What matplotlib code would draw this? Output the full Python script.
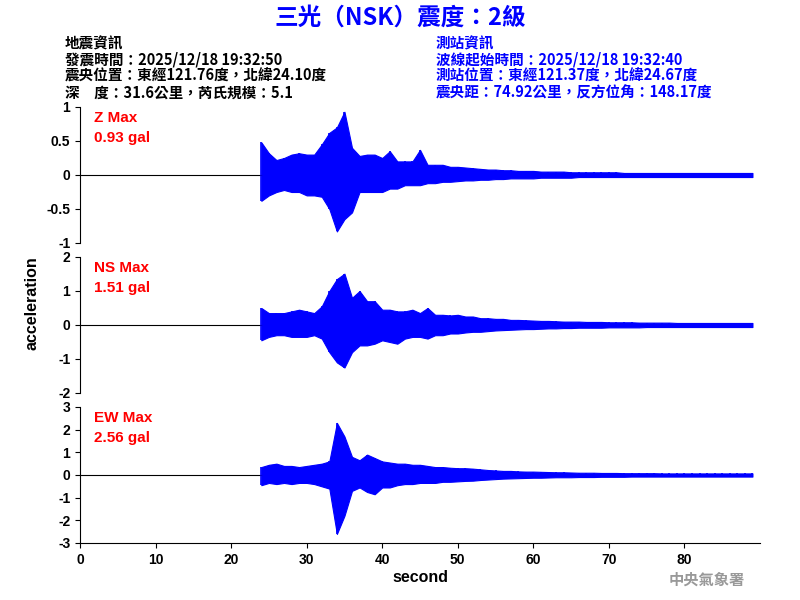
import matplotlib
matplotlib.use("Agg")
import matplotlib.pyplot as plt

plt.rcParams['font.family'] = ['Noto Sans CJK TC', 'DejaVu Sans']

# envelope sample times (seconds), one per second from onset
t_env = list(range(24, 90))
z_pos = [0.48,0.32,0.22,0.25,0.30,0.32,0.30,0.30,0.45,0.62,0.70,0.93,0.40,0.28,0.30,0.30,0.25,0.35,0.20,0.20,0.20,0.37,0.15,0.15,0.15,0.12,0.12,0.11,0.10,0.09,0.08,0.08,0.07,0.07,0.06,0.06,
         0.06,0.05,0.05,0.05,0.05,0.04,0.04,0.04,0.04,0.04,0.04,0.04,0.03,0.03,0.03,0.03,0.03,0.03,0.03,0.03,0.03,0.03,0.03,0.03,0.03,0.03,0.03,0.03,0.03,0.03]
z_neg = [-0.38,-0.30,-0.25,-0.22,-0.25,-0.25,-0.30,-0.30,-0.32,-0.50,-0.83,-0.65,-0.55,-0.25,-0.25,-0.25,-0.25,-0.20,-0.20,-0.15,-0.15,-0.15,-0.12,-0.12,-0.10,-0.10,-0.09,-0.08,-0.08,-0.07,-0.07,-0.06,-0.06,-0.05,-0.05,-0.05,
         -0.05,-0.04,-0.04,-0.04,-0.04,-0.04,-0.03,-0.03,-0.03,-0.03,-0.03,-0.03,-0.03,-0.03,-0.03,-0.03,-0.03,-0.03,-0.03,-0.03,-0.03,-0.03,-0.03,-0.03,-0.03,-0.03,-0.03,-0.03,-0.03,-0.03]
ns_pos = [0.50,0.35,0.35,0.35,0.40,0.45,0.40,0.35,0.55,1.00,1.35,1.51,0.80,1.00,0.70,0.70,0.45,0.45,0.40,0.40,0.45,0.35,0.50,0.30,0.30,0.28,0.30,0.25,0.25,0.20,0.20,0.18,0.18,0.15,0.15,0.14,
          0.13,0.12,0.12,0.11,0.10,0.10,0.10,0.09,0.09,0.09,0.08,0.08,0.08,0.08,0.07,0.07,0.07,0.07,0.07,0.06,0.06,0.06,0.06,0.06,0.06,0.06,0.06,0.06,0.06,0.06]
ns_neg = [-0.45,-0.35,-0.30,-0.30,-0.35,-0.35,-0.35,-0.30,-0.40,-0.80,-1.10,-1.25,-0.80,-0.60,-0.60,-0.55,-0.45,-0.50,-0.55,-0.40,-0.35,-0.35,-0.40,-0.30,-0.30,-0.25,-0.25,-0.22,-0.20,-0.20,-0.18,-0.16,-0.15,-0.14,-0.13,-0.12,
          -0.12,-0.11,-0.10,-0.10,-0.09,-0.09,-0.08,-0.08,-0.08,-0.08,-0.07,-0.07,-0.07,-0.07,-0.07,-0.06,-0.06,-0.06,-0.06,-0.06,-0.06,-0.06,-0.06,-0.06,-0.06,-0.06,-0.06,-0.06,-0.06,-0.06]
ew_pos = [0.35,0.45,0.50,0.40,0.40,0.35,0.40,0.45,0.50,0.60,2.30,1.70,0.80,0.65,0.90,0.75,0.60,0.55,0.50,0.50,0.45,0.45,0.40,0.35,0.35,0.32,0.30,0.30,0.28,0.25,0.22,0.20,0.18,0.18,0.16,0.15,
          0.15,0.14,0.13,0.12,0.12,0.11,0.10,0.10,0.10,0.09,0.09,0.09,0.08,0.08,0.08,0.08,0.08,0.07,0.07,0.07,0.07,0.07,0.07,0.07,0.07,0.07,0.07,0.07,0.07,0.07]
ew_neg = [-0.45,-0.35,-0.40,-0.35,-0.40,-0.35,-0.35,-0.40,-0.50,-0.60,-2.60,-1.80,-0.70,-0.55,-0.75,-0.85,-0.55,-0.55,-0.45,-0.40,-0.40,-0.35,-0.35,-0.35,-0.30,-0.30,-0.28,-0.26,-0.25,-0.22,-0.20,-0.18,-0.16,-0.15,-0.14,-0.13,
          -0.12,-0.12,-0.11,-0.10,-0.10,-0.10,-0.09,-0.09,-0.09,-0.08,-0.08,-0.08,-0.08,-0.07,-0.07,-0.07,-0.07,-0.07,-0.07,-0.07,-0.07,-0.07,-0.07,-0.07,-0.07,-0.07,-0.07,-0.07,-0.07,-0.07]

panels = [("Z Max", "0.93 gal", z_pos, z_neg, 1, [1, 0.5, 0, -0.5, -1], ["1", "0.5", "0", "-0.5", "-1"]),
          ("NS Max", "1.51 gal", ns_pos, ns_neg, 2, [2, 1, 0, -1, -2], ["2", "1", "0", "-1", "-2"]),
          ("EW Max", "2.56 gal", ew_pos, ew_neg, 3, [3, 2, 1, 0, -1, -2, -3], ["3", "2", "1", "0", "-1", "-2", "-3"])]

LAT = dict(family="Liberation Sans", weight="bold")
fig = plt.figure(figsize=(8, 6), dpi=100)
W, H = 800, 600
tops = [107, 257, 407]
blue = "#0000FF"
for i, (lab, val, pos, neg, lim, ticks, tlabels) in enumerate(panels):
    top = tops[i]
    ax = fig.add_axes([80 / W, 1 - (top + 136) / H, 680 / W, 136 / H])
    ax.plot([0, 24], [0, 0], color="black", lw=0.8)
    ax.fill_between(t_env, neg, pos, color=blue, lw=0.8, edgecolor=blue)
    ax.vlines(t_env, neg, pos, color=blue, lw=1.2)
    ax.set_xlim(0, 90)
    ax.set_ylim(-lim, lim)
    ax.set_yticks(ticks)
    ax.set_yticklabels(tlabels, fontsize=10, **LAT)
    for s in ["top", "right"]:
        ax.spines[s].set_visible(False)
    if i < 2:
        ax.spines["bottom"].set_visible(False)
        ax.set_xticks([])
    else:
        ax.set_xticks(range(0, 90, 10))
        ax.set_xticklabels([str(v) for v in range(0, 90, 10)], fontsize=10, **LAT)
        ax.set_xlabel("second", fontsize=11.5, labelpad=2, **LAT)
    ax.text(0.02, 0.97, lab, transform=ax.transAxes, color="red", fontsize=11, va="top", **LAT)
    ax.text(0.02, 0.82, val, transform=ax.transAxes, color="red", fontsize=11, va="top", **LAT)

fig.text(32 / W, 1 - 303 / H, "acceleration", rotation=90, va="center", ha="center", fontsize=11.5, **LAT)
fig.text(400 / W, 1 - 18 / H, "三光（NSK）震度：2級", ha="center", va="center", fontsize=17, color=blue, weight="bold")
left = ["地震資訊", "發震時間：2025/12/18 19:32:50", "震央位置：東經121.76度，北緯24.10度", "深　度：31.6公里，芮氏規模：5.1"]
right = ["測站資訊", "波線起始時間：2025/12/18 19:32:40", "測站位置：東經121.37度，北緯24.67度", "震央距：74.92公里，反方位角：148.17度"]
for k, (a, b) in enumerate(zip(left, right)):
    y = 1 - (43 + 16.5 * k) / H
    fig.text(65 / W, y, a, fontsize=10.5, va="center", color="black", weight="bold")
    fig.text(436 / W, y, b, fontsize=10.5, va="center", color=blue, weight="bold")
fig.text(745 / W, 1 - 580 / H, "中央氣象署", ha="right", va="center", fontsize=11, color="#999999", weight="bold")
fig.savefig("out.png", dpi=100)
